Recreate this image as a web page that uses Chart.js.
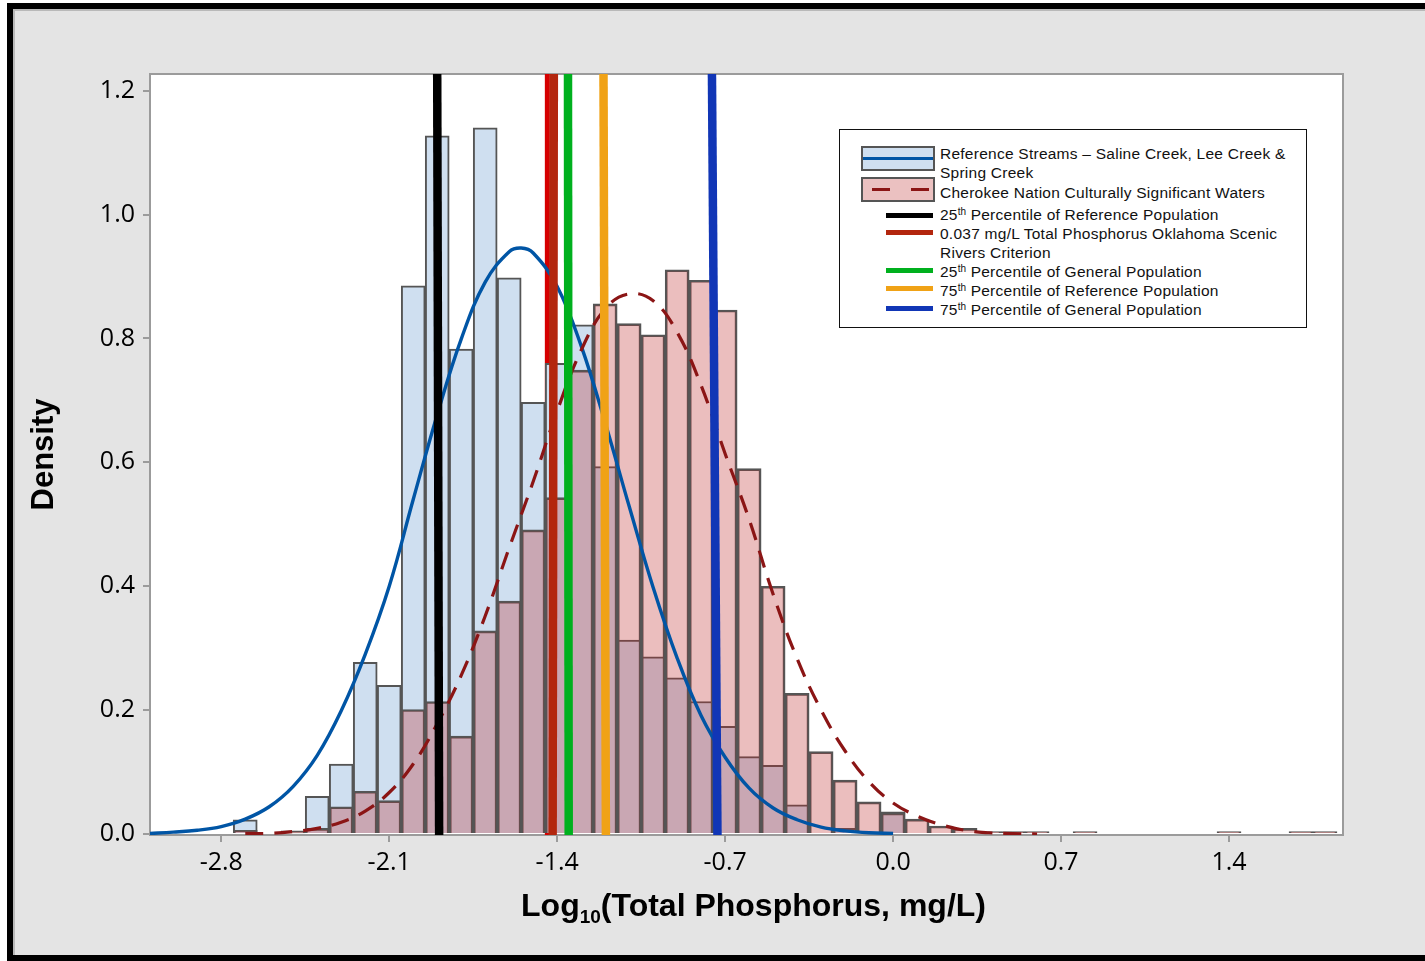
<!DOCTYPE html>
<html lang="en">
<head>
<meta charset="utf-8">
<title>Log10 Total Phosphorus density</title>
<script src="https://cdn.jsdelivr.net/npm/chart.js@4.4.1/dist/chart.umd.min.js"></script>
<style>
  html, body { margin: 0; padding: 0; background: #fff; }
  body { position: relative; width: 1425px; height: 961px; overflow: hidden; }
  #frame { position: absolute; left: 7px; top: 3px; width: 1440px; height: 946px;
           border: 6px solid #000; border-right: none; background: #e4e4e4;
           box-shadow: inset 2px 2px 0 #b9b9b9; }
  #chart { position: absolute; left: 0; top: 0; }
  #xTitle { position: absolute; left: 157px; width: 1193px; top: 887px; text-align: center;
            font: bold 32px "Liberation Sans", Arial, sans-serif; line-height: 36px; color: #000; }
  #xTitle sub { font-size: 19px; line-height: 0; vertical-align: -7px; }
  #legend { position: absolute; left: 839px; top: 129px; width: 468px; height: 199px; box-sizing: border-box;
            border: 1.5px solid #111; background: #fff; font: 15.5px "Liberation Sans", Arial, sans-serif;
            letter-spacing: 0.25px; color: #111; }
  .lg-text { position: absolute; left: 100px; line-height: 19px; white-space: pre; }
  .lg-text sup { font-size: 10px; line-height: 0; vertical-align: 5px; letter-spacing: 0; }
  .lg-patch { position: absolute; left: 21px; width: 74px; height: 25px; box-sizing: border-box; border: 2px solid #555; }
  .lg-patch i { position: absolute; left: 0; right: 0; top: 50%; height: 3px; margin-top: -1.5px; }
  .lg-line { position: absolute; left: 46px; width: 47px; height: 5px; margin-top: -2.5px; }
</style>
</head>
<body>
<div id="frame"></div>
<canvas id="chart" width="1425" height="961"></canvas>
<div id="xTitle">Log<sub>10</sub>(Total Phosphorus, mg/L)</div>
<div id="legend"></div>
<script>
// histogram bins (centre of each 0.1 wide bin, log10 mg/L)
const binCenters = [-2.7, -2.6, -2.5, -2.4, -2.3, -2.2, -2.1, -2.0, -1.9, -1.8, -1.7, -1.6, -1.5, -1.4,
  -1.3, -1.2, -1.1, -1.0, -0.9, -0.8, -0.7, -0.6, -0.5, -0.4, -0.3, -0.2, -0.1, 0.0, 0.1, 0.2, 0.3,
  0.4, 0.5, 0.6, 0.7, 0.8, 0.9, 1.0, 1.1, 1.2, 1.3, 1.4, 1.5, 1.6, 1.7, 1.8];
const refDensity = [0.023, 0, 0, 0.061, 0.113, 0.277, 0.240, 0.885, 1.127, 0.783, 1.140, 0.898, 0.697, 0.760,
  0.822, 0.593, 0.313, 0.286, 0.252, 0.214, 0.174, 0.125, 0.111, 0.047, 0, 0.009, 0, 0.036, 0, 0, 0,
  0, 0, 0, 0, 0, 0, 0, 0, 0, 0, 0, 0, 0, 0, 0];
const cnDensity = [0.006, 0, 0.005, 0.009, 0.044, 0.069, 0.054, 0.201, 0.214, 0.158, 0.328, 0.376, 0.491, 0.543,
  0.749, 0.856, 0.824, 0.806, 0.911, 0.894, 0.846, 0.590, 0.400, 0.227, 0.133, 0.087, 0.052, 0.034, 0.024, 0.013, 0.009,
  0.004, 0.004, 0.004, 0, 0.004, 0, 0, 0, 0, 0, 0.004, 0, 0, 0.004, 0.004];

// fitted density curves
const refCurveX = [-3.1, -3.0, -2.9, -2.8, -2.7, -2.6, -2.5, -2.4, -2.3, -2.2, -2.1, -2.0, -1.9, -1.8, -1.7,
  -1.6, -1.55, -1.5, -1.4, -1.3, -1.2, -1.1, -1.0, -0.9, -0.8, -0.7, -0.6, -0.5, -0.4, -0.3, -0.2, -0.1, 0.0];
const refCurveY = [0.001, 0.003, 0.006, 0.012, 0.024, 0.044, 0.077, 0.127, 0.199, 0.29, 0.40, 0.54, 0.677, 0.799, 0.891,
  0.940, 0.946, 0.938, 0.884, 0.788, 0.664, 0.529, 0.398, 0.284, 0.191, 0.124, 0.074, 0.042, 0.023, 0.011, 0.005, 0.002, 0.001];
const cnCurveX = [-2.7, -2.6, -2.5, -2.4, -2.3, -2.2, -2.1, -2.0, -1.9, -1.8, -1.7, -1.6, -1.5, -1.4, -1.3, -1.2,
  -1.1, -1.0, -0.9, -0.8, -0.7, -0.6, -0.5, -0.4, -0.3, -0.2, -0.1, 0.0, 0.1, 0.2, 0.3, 0.4, 0.5, 0.6];
const cnCurveY = [0.0005, 0.001, 0.004, 0.009, 0.019, 0.037, 0.067, 0.113, 0.178, 0.256, 0.352, 0.462, 0.569, 0.683, 0.781, 0.848,
  0.872, 0.861, 0.810, 0.724, 0.614, 0.508, 0.387, 0.283, 0.200, 0.134, 0.084, 0.050, 0.029, 0.015, 0.006, 0.002, 0.0005, 0];

// reference lines (x at top and bottom of the plot)
const markerLabels = ['25th Percentile of Reference Population',
  '0.037 mg/L Total Phosphorus Oklahoma Scenic\nRivers Criterion',
  '25th Percentile of General Population',
  '75th Percentile of Reference Population',
  '75th Percentile of General Population'];
const markerTopX = [-1.900, -1.414, -1.355, -1.207, -0.755];
const markerBottomX = [-1.892, -1.419, -1.352, -1.197, -0.732];
const criterionUnderX = -1.441;

const seriesLabels = ['Reference Streams – Saline Creek, Lee Creek &\nSpring Creek',
  'Cherokee Nation Culturally Significant Waters'];
const xTicks = [-2.8, -2.1, -1.4, -0.7, 0.0, 0.7, 1.4];
const yTicks = [0.0, 0.2, 0.4, 0.6, 0.8, 1.0, 1.2];

const markerColors = ['#000000', '#b3260e', '#00b01e', '#f0a216', '#1136b6'];
const yMin = -0.0016, yMax = 1.227;

const pts = (xs, ys) => xs.map((x, i) => ({x: x, y: ys[i]}));

const plotFrame = {
  id: 'plotFrame',
  beforeDraw(chart) {
    const {ctx, chartArea: a} = chart;
    ctx.save();
    ctx.fillStyle = '#fff';
    ctx.fillRect(a.left, a.top, a.right - a.left, a.bottom - a.top);
    ctx.restore();
  },
  beforeDatasetsDraw(chart) {
    const {ctx, chartArea: a} = chart;
    ctx.save();
    ctx.strokeStyle = '#9b9b9b';
    ctx.lineWidth = 2;
    ctx.strokeRect(a.left, a.top, a.right - a.left, a.bottom - a.top);
    ctx.restore();
  }
};

const datasets = [];
markerLabels.forEach((lab, i) => {
  datasets.push({
    type: 'line', label: lab,
    data: [{x: markerBottomX[i], y: yMin}, {x: markerTopX[i], y: yMax}],
    borderColor: markerColors[i], borderWidth: 8.5, pointRadius: 0, fill: false, order: i
  });
});
datasets.push({
  type: 'line', label: seriesLabels[1] + ' fit', data: pts(cnCurveX, cnCurveY),
  borderColor: '#8b1515', borderWidth: 3.2, borderDash: [18, 11], pointRadius: 0, tension: 0.4, fill: false, order: 6
});
datasets.push({
  type: 'line', label: seriesLabels[0] + ' fit', data: pts(refCurveX, refCurveY),
  borderColor: '#0055a5', borderWidth: 3.4, pointRadius: 0, tension: 0.4, fill: false, order: 7
});
datasets.push({
  type: 'bar', label: seriesLabels[1], data: pts(binCenters, cnDensity),
  backgroundColor: 'rgba(190,40,40,0.30)', borderColor: '#555', borderWidth: 2, borderSkipped: 'start',
  barPercentage: 1, categoryPercentage: 1, grouped: false, order: 8
});
datasets.push({
  type: 'bar', label: seriesLabels[0], data: pts(binCenters, refDensity),
  backgroundColor: '#cfdff0', borderColor: '#555', borderWidth: 2, borderSkipped: 'start',
  barPercentage: 1, categoryPercentage: 1, grouped: false, order: 9
});
datasets.push({
  type: 'line', label: 'criterion (under)', data: [{x: criterionUnderX, y: yMin}, {x: criterionUnderX, y: yMax}],
  borderColor: '#d60000', borderWidth: 5, pointRadius: 0, fill: false, order: 10
});

const axisGrid = { display: true, drawOnChartArea: false, drawTicks: true, tickLength: 7, color: '#9b9b9b', lineWidth: 2, offset: false };
const axisBorder = { display: true, color: '#9b9b9b', width: 2 };
const tickFont = { family: 'Open Sans', size: 25 };

new Chart(document.getElementById('chart').getContext('2d'), {
  type: 'bar',
  data: { datasets: datasets },
  options: {
    responsive: false,
    animation: false,
    layout: { padding: { left: 0, top: 74, right: 82, bottom: 0 } },
    plugins: { legend: { display: false }, tooltip: { enabled: false } },
    scales: {
      x: {
        type: 'linear', min: -3.097, max: 1.875, offset: false,
        afterFit: s => { s.height = 126; },
        afterBuildTicks: s => { s.ticks = xTicks.map(v => ({value: v})); },
        grid: axisGrid, border: axisBorder,
        ticks: { font: tickFont, color: '#000', padding: 6, maxRotation: 0, autoSkip: false,
                 callback: v => v.toFixed(1) }
      },
      y: {
        type: 'linear', min: yMin, max: yMax,
        afterFit: s => { s.width = 150; },
        afterBuildTicks: s => { s.ticks = yTicks.map(v => ({value: v})); },
        grid: axisGrid, border: axisBorder,
        ticks: { font: tickFont, color: '#000', padding: 8, callback: v => v.toFixed(1) },
        title: { display: true, text: 'Density', color: '#000',
                 font: { family: 'Liberation Sans', size: 31, weight: 'bold' }, padding: { top: 26, bottom: 0 } }
      }
    }
  },
  plugins: [plotFrame]
});

// legend drawn as html so the superscripts stay real text
const legend = document.getElementById('legend');
const sup = s => s.replace(/(\d)th /g, '$1<sup>th</sup> ');
const seriesTextTop = [14, 52.5];
const seriesPatchTop = [16, 47];
const markerTextTop = [74.5, 93.5, 131.5, 150.5, 169.5];
const markerLineY = [85, 102, 140, 158, 178];
const patchStyles = [
  { fill: '#cfdff0', line: '#0055a5' },
  { fill: '#ebc1c1', line: 'repeating-linear-gradient(90deg, transparent 0 9px, #8b1515 9px 27px, transparent 27px 39px)' }
];
seriesLabels.forEach((lab, i) => {
  const p = document.createElement('div');
  p.className = 'lg-patch';
  p.style.top = seriesPatchTop[i] + 'px';
  p.style.background = patchStyles[i].fill;
  const ln = document.createElement('i');
  ln.style.background = patchStyles[i].line;
  p.appendChild(ln);
  legend.appendChild(p);
  const t = document.createElement('div');
  t.className = 'lg-text';
  t.style.top = seriesTextTop[i] + 'px';
  t.textContent = lab;
  legend.appendChild(t);
});
markerLabels.forEach((lab, i) => {
  const l = document.createElement('div');
  l.className = 'lg-line';
  l.style.top = markerLineY[i] + 'px';
  l.style.background = markerColors[i];
  legend.appendChild(l);
  const t = document.createElement('div');
  t.className = 'lg-text';
  t.style.top = markerTextTop[i] + 'px';
  t.innerHTML = sup(lab);
  legend.appendChild(t);
});
</script>
</body>
</html>
